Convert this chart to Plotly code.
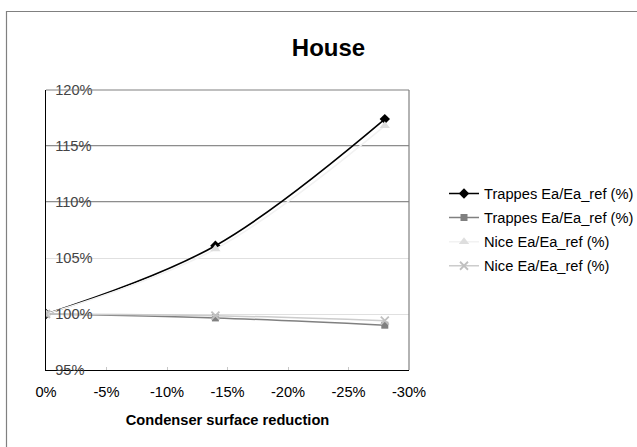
import plotly.graph_objects as go

# ---- data ----
x_reduction = [0.0, -0.14, -0.28]
trappes_a = [1.000, 1.061, 1.174]
trappes_b = [1.000, 0.9965, 0.990]
nice_a = [1.000, 1.058, 1.168]
nice_b = [1.000, 0.9985, 0.994]
series_names = ["Trappes Ea/Ea_ref (%)", "Trappes Ea/Ea_ref (%)",
                "Nice Ea/Ea_ref (%)", "Nice Ea/Ea_ref (%)"]
x_tick_vals = [0, -0.05, -0.10, -0.15, -0.20, -0.25, -0.30]
x_tick_labels = ["0%", "-5%", "-10%", "-15%", "-20%", "-25%", "-30%"]
y_tick_vals = [0.95, 1.00, 1.05, 1.10, 1.15, 1.20]
y_tick_labels = ["95%", "100%", "105%", "110%", "115%", "120%"]
dark_gridlines = [1.10, 1.15]

# ---- layout geometry ----
W, H = 637, 447
ML, MR, MT, MB = 46, 228, 90, 77
PW, PH = W - ML - MR, H - MT - MB

def px_to_paper_x(px):
    return (px - ML) / PW

def px_to_paper_y(py):
    return (H - MB - py) / PH

FONT = "Liberation Sans, Arial, sans-serif"

fig = go.Figure()
fig.add_trace(go.Scatter(
    x=x_reduction, y=trappes_a, name=series_names[0], mode="lines+markers",
    line=dict(color="#000000", width=1.6, shape="spline"),
    marker=dict(symbol="diamond", size=8, color="#000000"),
    legendgroup="g1"))
fig.add_trace(go.Scatter(
    x=x_reduction, y=trappes_b, name=series_names[1], mode="lines+markers",
    line=dict(color="#808080", width=1.5, shape="spline"),
    marker=dict(symbol="square", size=7, color="#808080"),
    legendgroup="g2"))
fig.add_trace(go.Scatter(
    x=x_reduction, y=nice_a, name=series_names[2], mode="lines+markers",
    line=dict(color="#f2f2f2", width=1.5, shape="spline"),
    marker=dict(symbol="triangle-up", size=9, color="#dedede"),
    legendgroup="g3"))
fig.add_trace(go.Scatter(
    x=x_reduction, y=nice_b, name=series_names[3], mode="lines+markers",
    line=dict(color="#cccccc", width=1.5, shape="spline"),
    marker=dict(symbol="x-thin-open", size=8, color="#c0c0c0",
                line=dict(color="#c0c0c0", width=1.8)),
    legendgroup="g4"))

shapes = []
for v in dark_gridlines:
    shapes.append(dict(type="line", xref="x domain", yref="y", x0=0, x1=1,
                       y0=v, y1=v, line=dict(color="#1a1a1a", width=1),
                       layer="below"))
# plot-area top and right borders (gray)
shapes.append(dict(type="line", xref="x domain", yref="y domain", x0=0, x1=1,
                   y0=1, y1=1, line=dict(color="#808080", width=1.2)))
shapes.append(dict(type="line", xref="x domain", yref="y domain", x0=1, x1=1,
                   y0=0, y1=1, line=dict(color="#808080", width=1.2)))
# outer chart border (left and top)
shapes.append(dict(type="rect", xref="paper", yref="paper",
                   x0=px_to_paper_x(6.5), x1=px_to_paper_x(W + 10),
                   y0=px_to_paper_y(H + 10), y1=px_to_paper_y(11.5),
                   line=dict(color="#808080", width=1.2), layer="below"))

fig.update_layout(
    width=W, height=H,
    margin=dict(l=ML, r=MR, t=MT, b=MB, autoexpand=False),
    paper_bgcolor="white", plot_bgcolor="white",
    font=dict(family=FONT, size=14.67, color="#000000"),
    title=dict(text="<b>House</b>", font=dict(size=24, family=FONT),
               xref="container", yref="container",
               x=328.5 / W, xanchor="center", y=1 - 48 / H, yanchor="middle"),
    showlegend=True,
    legend=dict(x=px_to_paper_x(444), y=0.5, xanchor="left", yanchor="middle",
                traceorder="grouped", tracegroupgap=2,
                font=dict(size=14.67, family=FONT),
                bgcolor="rgba(0,0,0,0)"),
    shapes=shapes,
)
fig.update_xaxes(
    range=[0, -0.30], tickvals=x_tick_vals, ticktext=x_tick_labels,
    showgrid=False, zeroline=False, showline=True, linecolor="#000000",
    linewidth=1.2, ticks="inside", ticklen=3, tickcolor="#c8c8c8",
    ticklabelstandoff=8,
    title=dict(text="<b>Condenser surface reduction</b>",
               font=dict(size=14.67, family=FONT), standoff=16),
)
fig.update_yaxes(
    range=[0.95, 1.20], tickvals=y_tick_vals, ticktext=y_tick_labels,
    showgrid=True, gridcolor="#e0e0e0", gridwidth=1, zeroline=False,
    showline=True, linecolor="#000000", linewidth=1.2,
    ticks="", ticklabelposition="inside", ticklabeloverflow="allow",
    ticklabelstandoff=9,
)

fig.write_html("out.html",
               config={"displayModeBar": False},
               post_script="document.body.style.margin='0';"
                           "document.body.style.padding='0';")
